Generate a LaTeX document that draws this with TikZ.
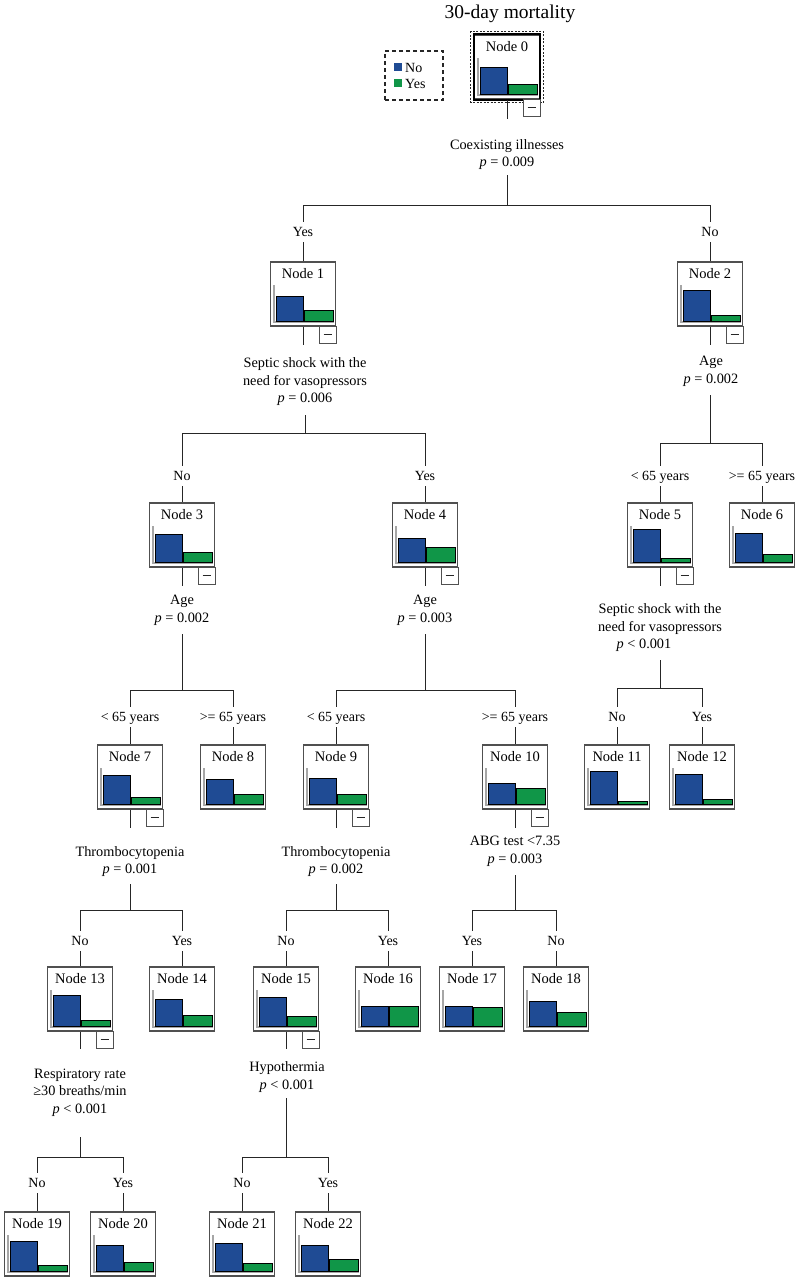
\documentclass[tikz,border=0pt]{standalone}
\usepackage{fontspec}
\setmainfont{Liberation Serif}
\usetikzlibrary{calc}
\definecolor{bblue}{RGB}{31,75,148}
\definecolor{bgreen}{RGB}{16,150,72}
\definecolor{boxgray}{RGB}{80,80,80}
\newcommand\tnode[5]{%
  \node[nbox] (n#1) at (#2,#3+32) {};
  \node[ntitle] (t#1) at (#2,#3+12) {Node #1};
  \draw[baraxis] (#2-29,#3+23) -- (#2-29,#3+60) -- (#2+30.5,#3+60);
  \draw[bluebar] (#2-27,#3+59) rectangle (#2+0.5,#3+59-#4);
  \draw[greenbar] (#2+1.5,#3+59) rectangle (#2+30,#3+59-#5);
}
\newcommand\tminus[1]{%
  \node[mbox] (m#1) at ($(n#1.south east)+(-8.5,8.5)$) {};
  \draw[conn] ($(m#1.center)+(-4,-1)$) -- ($(m#1.center)+(4,-1)$);
}
\newcommand\branch[5]{%
  \node[blab] (b#1) at (#2,#4) {#5};
  \draw[conn] (b#1 |- #3) -- (b#1.north);
  \draw[conn] (b#1.south) -- (n#1.north);
}
\begin{document}
\begin{tikzpicture}[x=1pt,y=-1pt,
  nbox/.style={draw=boxgray,line width=1.3pt,fill=white,minimum width=65pt,minimum height=64pt,inner sep=0pt},
  ntitle/.style={font=\fontsize{14.5}{16}\selectfont,inner sep=0pt},
  baraxis/.style={draw=gray!70,line width=1.7pt},
  bluebar/.style={draw=black,line width=0.8pt,fill=bblue},
  greenbar/.style={draw=black,line width=0.8pt,fill=bgreen},
  mbox/.style={draw=boxgray,line width=1.1pt,fill=white,minimum width=17pt,minimum height=17pt,inner sep=0pt},
  conn/.style={draw=black!85,line width=1pt},
  cond/.style={font=\fontsize{14.3}{17.5}\selectfont,align=center,inner sep=0pt},
  blab/.style={font=\fontsize{14}{16}\selectfont,text height=9.5pt,text depth=0pt,inner sep=0pt,minimum height=20pt},
  legtext/.style={font=\fontsize{14}{16}\selectfont,anchor=west,inner sep=0pt,text height=9.5pt,text depth=0pt}
]
\useasboundingbox[fill=white] (0,0) rectangle (800,1280);

% title and legend
\node[font=\fontsize{19.5}{22}\selectfont,inner sep=0pt] (title) at (510,14) {30-day mortality};
\node[draw=black!85,dash pattern=on 4pt off 3pt,line width=1.1pt,minimum width=58pt,minimum height=49pt,inner sep=0pt] (leg) at (414,75.5) {};
\node[fill=bblue,minimum size=8pt,inner sep=0pt] (lgb) at (398,67) {};
\node[fill=bgreen,minimum size=8pt,inner sep=0pt] (lgg) at (398,83) {};
\node[legtext] (lgbt) at (405,67.5) {No};
\node[legtext] (lggt) at (405,83.5) {Yes};

% nodes
\tnode{0}{507}{35}{27}{10}
\draw[line width=2.2pt,black] (n0.north west) rectangle (n0.south east);
\draw[black!85,line width=1pt,dash pattern=on 2pt off 1.5pt] ($(n0.north west)+(-3,-3)$) rectangle ($(n0.south east)+(3,3)$);
\tminus{0}
\tnode{1}{303}{262}{25}{11}\tminus{1}
\tnode{2}{710}{262}{31}{6}\tminus{2}
\tnode{3}{182}{503}{28}{10}\tminus{3}
\tnode{4}{425}{503}{24}{15}\tminus{4}
\tnode{5}{660}{503}{33}{4}\tminus{5}
\tnode{6}{762}{503}{29}{8}
\tnode{7}{130}{745}{29}{7}\tminus{7}
\tnode{8}{233}{745}{25}{10}
\tnode{9}{336}{745}{26}{10}\tminus{9}
\tnode{10}{515}{745}{21}{16}\tminus{10}
\tnode{11}{617}{745}{33}{3}
\tnode{12}{702}{745}{30}{5}
\tnode{13}{80}{967}{31}{6}\tminus{13}
\tnode{14}{182}{967}{27}{11}
\tnode{15}{286}{967}{29}{10}\tminus{15}
\tnode{16}{388}{967}{20}{20}
\tnode{17}{472}{967}{20}{19}
\tnode{18}{556}{967}{25}{14}
\tnode{19}{37}{1212}{30}{6}
\tnode{20}{123}{1212}{26}{9}
\tnode{21}{242}{1212}{28}{8}
\tnode{22}{328}{1212}{26}{12}

% split 0
\node[cond] (c0) at (507,154.5) {Coexisting illnesses\\\textit{p} = 0.009};
\coordinate (h0) at (507,205);
\draw[conn] (n0.south) -- ++(0,19);
\draw[conn] (h0) -- ++(0,-30);
\branch{1}{303}{h0}{232}{Yes}
\branch{2}{710}{h0}{232}{No}
\draw[conn] (b1 |- h0) -- (b2 |- h0);

% split 1
\node[cond] (c1) at (305,382) {Septic shock with the\\need for vasopressors\\\textit{p} = 0.006};
\coordinate (h1) at (305,433);
\draw[conn] (n1.south) -- ++(0,18);
\draw[conn] (h1) -- ++(0,-18);
\branch{3}{182}{h1}{476}{No}
\branch{4}{425}{h1}{476}{Yes}
\draw[conn] (b3 |- h1) -- (b4 |- h1);

% split 2
\node[cond] (c2) at (711,371.5) {Age\\\textit{p} = 0.002};
\coordinate (h2) at (710,443);
\draw[conn] (n2.south) -- ++(0,18);
\draw[conn] (h2) -- ++(0,-48);
\branch{5}{660}{h2}{476}{< 65 years}
\branch{6}{762}{h2}{476}{>= 65 years}
\draw[conn] (b5 |- h2) -- (b6 |- h2);

% split 3
\node[cond] (c3) at (182,610.5) {Age\\\textit{p} = 0.002};
\coordinate (h3) at (182,690);
\draw[conn] (n3.south) -- ++(0,18);
\draw[conn] (h3) -- ++(0,-56);
\branch{7}{130}{h3}{717}{< 65 years}
\branch{8}{233}{h3}{717}{>= 65 years}
\draw[conn] (b7 |- h3) -- (b8 |- h3);

% split 4
\node[cond] (c4) at (425,610.5) {Age\\\textit{p} = 0.003};
\coordinate (h4) at (425,690);
\draw[conn] (n4.south) -- ++(0,18);
\draw[conn] (h4) -- ++(0,-56);
\branch{9}{336}{h4}{717}{< 65 years}
\branch{10}{515}{h4}{717}{>= 65 years}
\draw[conn] (b9 |- h4) -- (b10 |- h4);

% split 5
\node[cond] (c5) at (660,628) {Septic shock with the\\need for vasopressors\\\textit{p} < 0.001\hspace*{32pt}};
\coordinate (h5) at (660,688);
\draw[conn] (n5.south) -- ++(0,18);
\draw[conn] (h5) -- ++(0,-28);
\branch{11}{617}{h5}{717}{No}
\branch{12}{702}{h5}{717}{Yes}
\draw[conn] (b11 |- h5) -- (b12 |- h5);

% split 7
\node[cond] (c7) at (130,861.5) {Thrombocytopenia\\\textit{p} = 0.001};
\coordinate (h7) at (130,910);
\draw[conn] (n7.south) -- ++(0,18);
\draw[conn] (h7) -- ++(0,-26);
\branch{13}{80}{h7}{941}{No}
\branch{14}{182}{h7}{941}{Yes}
\draw[conn] (b13 |- h7) -- (b14 |- h7);

% split 9
\node[cond] (c9) at (336,861.5) {Thrombocytopenia\\\textit{p} = 0.002};
\coordinate (h9) at (336,910);
\draw[conn] (n9.south) -- ++(0,18);
\draw[conn] (h9) -- ++(0,-26);
\branch{15}{286}{h9}{941}{No}
\branch{16}{388}{h9}{941}{Yes}
\draw[conn] (b15 |- h9) -- (b16 |- h9);

% split 10
\node[cond] (c10) at (515,851.5) {ABG test <7.35\\\textit{p} = 0.003};
\coordinate (h10) at (515,910);
\draw[conn] (n10.south) -- ++(0,18);
\draw[conn] (h10) -- ++(0,-35);
\branch{17}{472}{h10}{941}{Yes}
\branch{18}{556}{h10}{941}{No}
\draw[conn] (b17 |- h10) -- (b18 |- h10);

% split 13
\node[cond] (c13) at (80,1092.5) {Respiratory rate\\≥30 breaths/min\\\textit{p} < 0.001};
\coordinate (h13) at (80,1157);
\draw[conn] (n13.south) -- ++(0,17);
\draw[conn] (h13) -- ++(0,-20);
\branch{19}{37}{h13}{1183}{No}
\branch{20}{123}{h13}{1183}{Yes}
\draw[conn] (b19 |- h13) -- (b20 |- h13);

% split 15
\node[cond] (c15) at (287,1077) {Hypothermia\\\textit{p} < 0.001};
\coordinate (h15) at (286,1157);
\draw[conn] (n15.south) -- ++(0,17);
\draw[conn] (h15) -- ++(0,-59);
\branch{21}{242}{h15}{1183}{No}
\branch{22}{328}{h15}{1183}{Yes}
\draw[conn] (b21 |- h15) -- (b22 |- h15);
\end{tikzpicture}
\end{document}
